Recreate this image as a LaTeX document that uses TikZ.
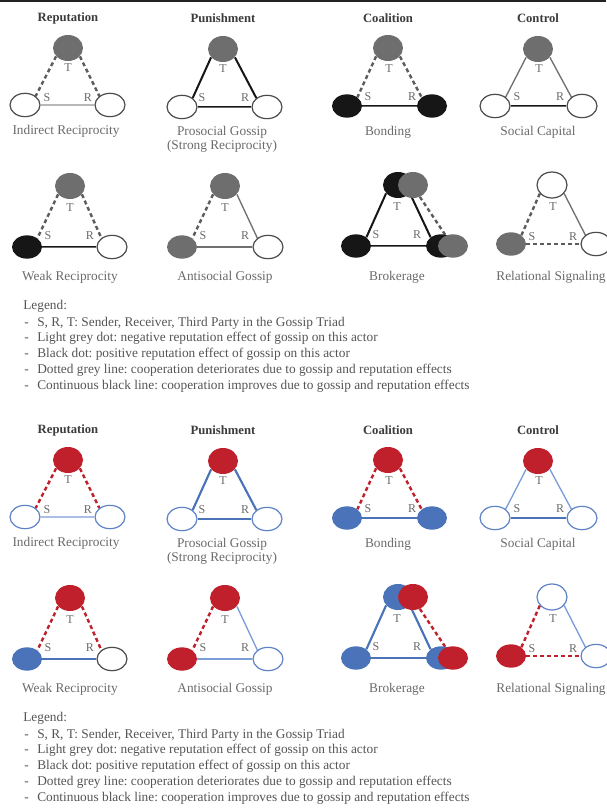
\documentclass[tikz,border=0pt]{standalone}
\usepackage{fontspec}
\setmainfont{Liberation Serif}
\usetikzlibrary{shapes.geometric}
\pgfdeclarelayer{back}
\pgfdeclarelayer{bg}
\pgfsetlayers{back,bg,main}
\frenchspacing
\definecolor{tgrey}{HTML}{6E6E6E}
\definecolor{tblack}{HTML}{161616}
\definecolor{toutline}{HTML}{4A4A4A}
\definecolor{tdash}{HTML}{5C5C5C}
\definecolor{tdbl}{HTML}{6A6A6A}
\definecolor{tlight}{HTML}{B9B9B9}
\definecolor{tthin}{HTML}{707070}
\definecolor{bred}{HTML}{C0202B}
\definecolor{bblue}{HTML}{4A73B9}
\definecolor{boutline}{HTML}{5E82C8}
\definecolor{blight}{HTML}{A9BFE6}
\definecolor{bthin}{HTML}{7C9DD8}
\definecolor{titlec}{HTML}{3C3C3C}
\definecolor{subc}{HTML}{6B6B6B}
\definecolor{labc}{HTML}{6B6B6B}
\definecolor{legc}{HTML}{555555}
\definecolor{barc}{HTML}{222222}
\newcommand\gtitlefont{\fontsize{9.5}{10}\selectfont\bfseries}
\newcommand\gsubfont{\fontsize{10}{10.5}\selectfont}
\newcommand\glabfont{\fontsize{9}{9}\selectfont}
\newcommand\glegfont{\fontsize{10}{10.5}\selectfont}
\tikzset{
  actor/.style={ellipse, inner sep=0pt, minimum width=22.5pt, minimum height=17.5pt},
  tsize/.style={minimum height=19.5pt},
  lab/.style={text=labc, font=\glabfont, inner sep=0pt},
  gtitle/.style={text=titlec, font=\gtitlefont, inner sep=0pt},
  gsub/.style={text=subc, font=\gsubfont, inner sep=0pt, align=center},
  gleg/.style={text=legc, font=\glegfont, inner sep=0pt, anchor=base west},
  toppanel/.style={
    greyD/.style={fill=tgrey},
    blackD/.style={fill=tblack},
    whiteD/.style={fill=white, draw=toutline, line width=0.9pt},
    whiteDb/.style={fill=white, draw=toutline, line width=0.9pt},
    dashE/.style={draw=tdash, line width=1.8pt, dash pattern=on 3pt off 2.2pt},
    strongE/.style={draw=tblack, line width=1.5pt},
    dblE/.style={draw=tblack, line width=0.6pt, double=tdbl, double distance=0.55pt},
    lightE/.style={draw=tlight, line width=2pt},
    thinE/.style={draw=tthin, line width=1pt}},
  botpanel/.style={
    greyD/.style={fill=bred},
    blackD/.style={fill=bblue},
    whiteD/.style={fill=white, draw=boutline, line width=0.9pt},
    whiteDb/.style={fill=white, draw=toutline, line width=0.9pt},
    dashE/.style={draw=bred, line width=1.8pt, dash pattern=on 3pt off 2.2pt},
    strongE/.style={draw=bblue, line width=1.6pt},
    dblE/.style={draw=bblue, line width=1.8pt},
    lightE/.style={draw=blight, line width=2pt},
    thinE/.style={draw=bthin, line width=1pt}}
}
\newcommand\gpanel[1]{%
  % titles
  \node[gtitle] (#1h1) at (68,18) {Reputation};
  \node[gtitle] (#1h2) at (223,18) {Punishment};
  \node[gtitle] (#1h3) at (388,18) {Coalition};
  \node[gtitle] (#1h4) at (538,18) {Control};
  % D1 Indirect Reciprocity
  \node[actor,tsize,greyD] (#1t1) at (68,48) {};
  \node[actor,whiteD] (#1s1) at (25,105) {};
  \node[actor,whiteD] (#1r1) at (110,105) {};
  \node[lab] (#1lt1) at (68,68) {T};
  \node[lab] (#1ls1) at (47,98) {S};
  \node[lab] (#1lr1) at (88,98) {R};
  \node[gsub] (#1c1) at (66,131) {Indirect Reciprocity};
  % D2 Prosocial Gossip
  \node[actor,tsize,greyD] (#1t2) at (223,49) {};
  \node[actor,whiteD] (#1s2) at (182,107) {};
  \node[actor,whiteD] (#1r2) at (267,107) {};
  \node[lab] (#1lt2) at (223,69) {T};
  \node[lab] (#1ls2) at (202,98) {S};
  \node[lab] (#1lr2) at (245,98) {R};
  \node[gsub] (#1c2) at (222,139) {Prosocial Gossip\\(Strong Reciprocity)};
  % D3 Bonding
  \node[actor,tsize,greyD] (#1t3) at (388,48) {};
  \node[actor,blackD] (#1s3) at (347,106) {};
  \node[actor,blackD] (#1r3) at (432,106) {};
  \node[lab] (#1lt3) at (389,69) {T};
  \node[lab] (#1ls3) at (368,97) {S};
  \node[lab] (#1lr3) at (412,97) {R};
  \node[gsub] (#1c3) at (388,132) {Bonding};
  % D4 Social Capital
  \node[actor,tsize,greyD] (#1t4) at (538,49) {};
  \node[actor,whiteD] (#1s4) at (495,106) {};
  \node[actor,whiteD] (#1r4) at (582,106) {};
  \node[lab] (#1lt4) at (539,69) {T};
  \node[lab] (#1ls4) at (517,97) {S};
  \node[lab] (#1lr4) at (560,97) {R};
  \node[gsub] (#1c4) at (538,132) {Social Capital};
  % D5 Weak Reciprocity
  \node[actor,tsize,greyD] (#1t5) at (70,186) {};
  \node[actor,blackD] (#1s5) at (27,247) {};
  \node[actor,whiteDb] (#1r5) at (112,247) {};
  \node[lab] (#1lt5) at (70,208) {T};
  \node[lab] (#1ls5) at (48,236) {S};
  \node[lab] (#1lr5) at (90,236) {R};
  \node[gsub] (#1c5) at (70,277) {Weak Reciprocity};
  % D6 Antisocial Gossip
  \node[actor,tsize,greyD] (#1t6) at (225,186) {};
  \node[actor,greyD] (#1s6) at (182,247) {};
  \node[actor,whiteD] (#1r6) at (268,247) {};
  \node[lab] (#1lt6) at (225,208) {T};
  \node[lab] (#1ls6) at (203,236) {S};
  \node[lab] (#1lr6) at (245,236) {R};
  \node[gsub] (#1c6) at (225,277) {Antisocial Gossip};
  % D7 Brokerage
  \node[actor,tsize,blackD] (#1t7) at (398,185) {};
  \node[actor,tsize,greyD] (#1g7) at (413,185) {};
  \node[actor,blackD] (#1s7) at (356,246) {};
  \node[actor,blackD] (#1r7) at (441,246) {};
  \node[actor,greyD] (#1q7) at (453,246) {};
  \node[lab] (#1lt7) at (397,207) {T};
  \node[lab] (#1ls7) at (376,235) {S};
  \node[lab] (#1lr7) at (417,235) {R};
  \node[gsub] (#1c7) at (397,277) {Brokerage};
  % D8 Relational Signaling
  \node[actor,tsize,whiteD] (#1t8) at (552,185) {};
  \node[actor,greyD] (#1s8) at (511,244) {};
  \node[actor,whiteD] (#1r8) at (596,244) {};
  \node[lab] (#1lt8) at (553,207) {T};
  \node[lab] (#1ls8) at (532,237) {S};
  \node[lab] (#1lr8) at (573,237) {R};
  \node[gsub] (#1c8) at (551,277) {Relational Signaling};
  % connectors
  \begin{pgfonlayer}{bg}
    \draw[dashE] (#1t1.215) -- (#1s1.40);
    \draw[dashE] (#1t1.325) -- (#1r1.140);
    \draw[lightE] (#1s1) -- (#1r1);
    \draw[strongE] (#1t2.215) -- (#1s2.40);
    \draw[strongE] (#1t2.325) -- (#1r2.140);
    \draw[dblE] (#1s2) -- (#1r2);
    \draw[dashE] (#1t3.215) -- (#1s3.40);
    \draw[dashE] (#1t3.325) -- (#1r3.140);
    \draw[dblE] (#1s3) -- (#1r3);
    \draw[thinE] (#1t4.215) -- (#1s4.40);
    \draw[thinE] (#1t4.325) -- (#1r4.140);
    \draw[dblE] (#1s4) -- (#1r4);
    \draw[dashE] (#1t5.215) -- (#1s5.40);
    \draw[dashE] (#1t5.325) -- (#1r5.140);
    \draw[dblE] (#1s5) -- (#1r5);
    \draw[dashE] (#1t6.215) -- (#1s6.40);
    \draw[thinE] (#1t6.325) -- (#1r6.140);
    \draw[thinE] (#1s6) -- (#1r6);
    \draw[strongE] (#1t7.215) -- (#1s7.40);
    \draw[strongE] (#1t7.325) -- (#1r7.140);
    \draw[dblE] (#1s7) -- (#1r7);
    \draw[dashE] (#1g7.300) -- (#1q7.125);
    \draw[dashE] (#1t8.215) -- (#1s8.40);
    \draw[thinE] (#1t8.325) -- (#1r8.140);
    \draw[dashE] (#1s8) -- (#1r8);
  \end{pgfonlayer}
  % legend
  \node[gleg] (#1lg0) at (23,309) {Legend:};
  \node[gleg] (#1bu1) at (24,326) {-};
  \node[gleg] (#1lg1) at (37,326) {S, R, T: Sender, Receiver, Third Party in the Gossip Triad};
  \node[gleg] (#1bu2) at (24,341) {-};
  \node[gleg] (#1lg2) at (37,341) {Light grey dot: negative reputation effect of gossip on this actor};
  \node[gleg] (#1bu3) at (24,357) {-};
  \node[gleg] (#1lg3) at (37,357) {Black dot: positive reputation effect of gossip on this actor};
  \node[gleg] (#1bu4) at (24,373) {-};
  \node[gleg] (#1lg4) at (37,373) {Dotted grey line: cooperation deteriorates due to gossip and reputation effects};
  \node[gleg] (#1bu5) at (24,389) {-};
  \node[gleg] (#1lg5) at (37,389) {Continuous black line: cooperation improves due to gossip and reputation effects};
}
\begin{document}
\begin{tikzpicture}[x=0.75pt,y=-0.75pt]
  \useasboundingbox (0,0) rectangle (606,809);
  \begin{pgfonlayer}{back}
    \fill[white] (0,0) rectangle (606,809);
  \end{pgfonlayer}
  \fill[barc] (0,0) rectangle (606,2.5);
  \begin{scope}[toppanel]
    \gpanel{a}
  \end{scope}
  \begin{scope}[shift={(0,412)}, botpanel]
    \gpanel{b}
  \end{scope}
\end{tikzpicture}
\end{document}
